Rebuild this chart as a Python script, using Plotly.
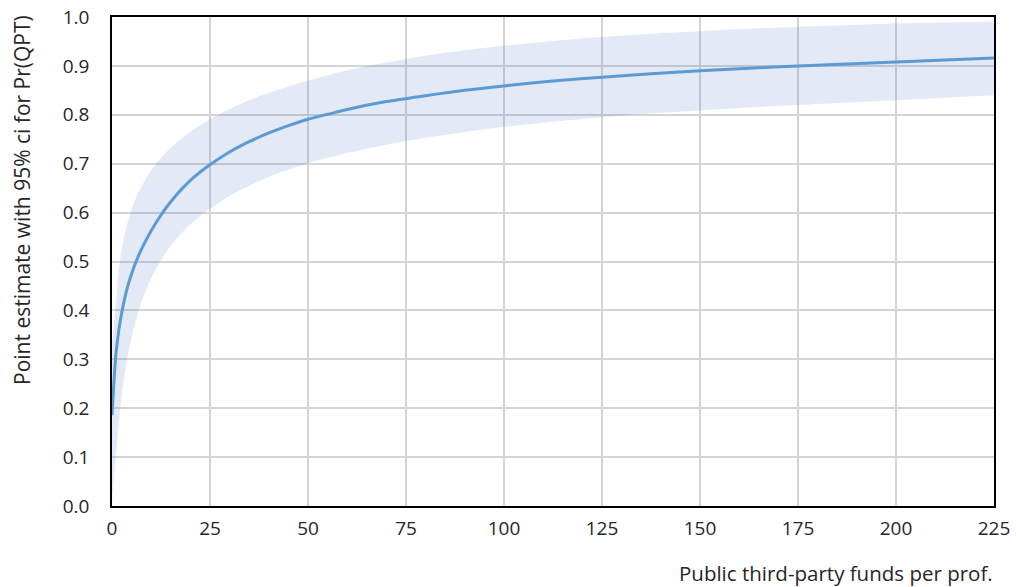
import plotly.graph_objects as go

# Public third-party funds per professor (x) and predicted probability of QPT
funds = [0, 0.5, 1, 1.5, 2, 3, 4, 5, 6, 7, 8, 10, 12, 14, 16, 18, 20, 22.5, 25,
         30, 35, 40, 45, 50, 55, 60, 70, 80, 90, 100, 112.5, 125, 137.5, 150,
         162.5, 175, 187.5, 200, 212.5, 225]
point_est = [0.186, 0.255, 0.311, 0.345, 0.373, 0.416, 0.449, 0.475, 0.497, 0.516,
             0.533, 0.563, 0.589, 0.612, 0.632, 0.650, 0.666, 0.683, 0.698,
             0.724, 0.745, 0.763, 0.778, 0.791, 0.801, 0.811, 0.827, 0.839, 0.850,
             0.859, 0.869, 0.877, 0.884, 0.890, 0.895, 0.900, 0.904, 0.908,
             0.912, 0.916]
ci_upper = [0.33, 0.371, 0.414, 0.463, 0.50, 0.547, 0.581, 0.607, 0.628, 0.645,
            0.660, 0.686, 0.707, 0.725, 0.740, 0.753, 0.765, 0.779, 0.791,
            0.812, 0.830, 0.845, 0.858, 0.870, 0.881, 0.891, 0.907, 0.921, 0.932,
            0.941, 0.951, 0.959, 0.966, 0.971, 0.976, 0.980, 0.983, 0.987,
            0.989, 0.991]
ci_lower = [0.01, 0.058, 0.101, 0.15, 0.192, 0.257, 0.306, 0.345, 0.377, 0.404,
            0.428, 0.466, 0.496, 0.521, 0.542, 0.560, 0.576, 0.593, 0.608,
            0.634, 0.655, 0.673, 0.688, 0.701, 0.712, 0.722, 0.739, 0.753, 0.765,
            0.775, 0.786, 0.795, 0.803, 0.809, 0.815, 0.820, 0.825, 0.830,
            0.835, 0.840]

x_ticks = [0, 25, 50, 75, 100, 125, 150, 175, 200, 225]
y_ticks = [0.0, 0.1, 0.2, 0.3, 0.4, 0.5, 0.6, 0.7, 0.8, 0.9, 1.0]

FONT = "Open Sans"
TEXT = "#262626"
GRID = "#d4d4d4"

fig = go.Figure()

# 95% confidence band
fig.add_trace(go.Scatter(x=funds, y=ci_upper, mode="lines",
                         line=dict(width=0, shape="spline", smoothing=0.8),
                         hoverinfo="skip", showlegend=False))
fig.add_trace(go.Scatter(x=funds, y=ci_lower, mode="lines",
                         line=dict(width=0, shape="spline", smoothing=0.8),
                         fill="tonexty", fillcolor="rgba(68,114,196,0.15)",
                         hoverinfo="skip", showlegend=False))

# point estimate
fig.add_trace(go.Scatter(x=funds, y=point_est, mode="lines",
                         line=dict(color="#5b9bd5", width=3, shape="spline", smoothing=0.8),
                         showlegend=False))

fig.update_layout(
    width=1016, height=587,
    margin=dict(l=112, r=22, t=17, b=81, autoexpand=False),
    paper_bgcolor="white", plot_bgcolor="white",
    font=dict(family=FONT, size=19, color=TEXT),
    xaxis=dict(range=[0, 225], tickvals=x_ticks, ticks="", showgrid=True,
               gridcolor=GRID, gridwidth=1.5, zeroline=False, automargin=False,
               showline=True, linecolor="black", linewidth=1.5, mirror=True,
               ticklabelstandoff=4,
               tickfont=dict(family=FONT, size=19, color=TEXT)),
    yaxis=dict(range=[0, 1.0], tickvals=y_ticks, tickformat=".1f", ticks="",
               showgrid=True, gridcolor=GRID, gridwidth=1.5, zeroline=False,
               automargin=False,
               showline=True, linecolor="black", linewidth=1.5, mirror=True,
               ticklabelstandoff=17,
               tickfont=dict(family=FONT, size=19, color=TEXT)),
    annotations=[
        dict(text="Public third-party funds per prof.", xref="paper", yref="paper",
             x=1.0, y=0, xanchor="right", yanchor="middle", yshift=-67, xshift=1,
             showarrow=False, font=dict(family=FONT, size=20.5, color=TEXT)),
        dict(text="Point estimate with 95% ci for Pr(QPT)", xref="paper", yref="paper",
             x=0, y=1.0, xanchor="center", yanchor="top", xshift=-90, yshift=4,
             textangle=-90, showarrow=False,
             font=dict(family=FONT, size=21, color=TEXT)),
    ],
)

fig.write_html("out.html")
